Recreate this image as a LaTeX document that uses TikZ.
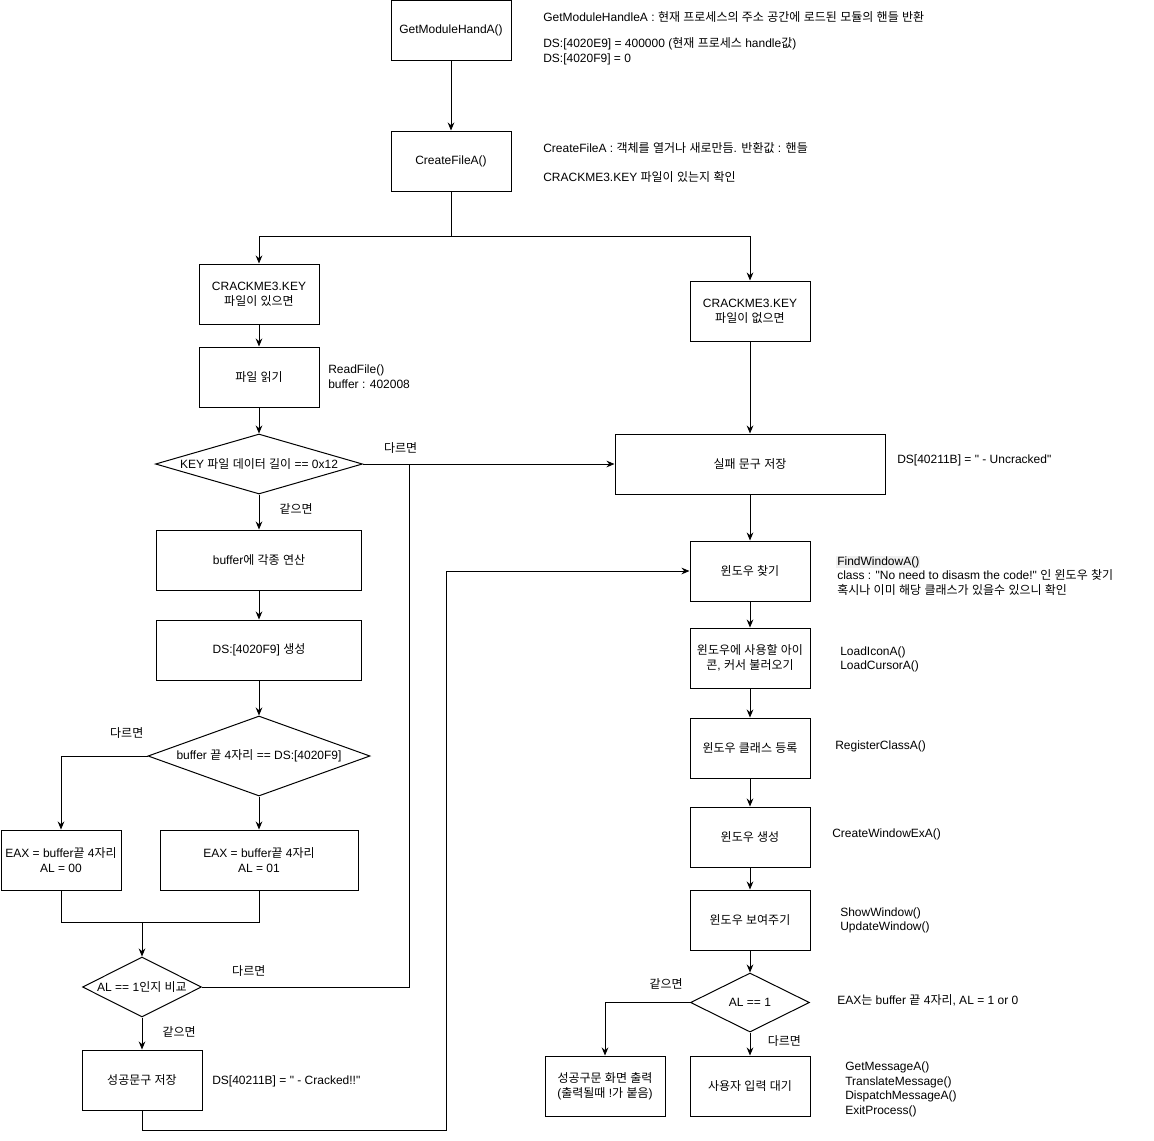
\documentclass[tikz,border=0pt]{standalone}
\usepackage{fontspec}
\newfontfamily\arialfont{Liberation Sans}
\newfontfamily\krfont{Noto Sans CJK KR}
\usetikzlibrary{arrows.meta,shapes.geometric}
% hangul syllables switch to the Korean font
\XeTeXinterchartokenstate=1
\newXeTeXintercharclass\hangulclass
\newcount\hgcnt
\hgcnt="AC00
\loop
  \XeTeXcharclass\hgcnt=\hangulclass
  \advance\hgcnt by 1
\ifnum\hgcnt<"D7A4 \repeat
\XeTeXinterchartoks 0 \hangulclass = {\begingroup\krfont}
\XeTeXinterchartoks 4095 \hangulclass = {\begingroup\krfont}
\XeTeXinterchartoks \hangulclass 0 = {\endgroup}
\XeTeXinterchartoks \hangulclass 4095 = {\endgroup}
\tikzset{
  >={Stealth[length=6pt,width=5pt]},
  font=\arialfont\fontsize{9}{11}\selectfont,
  box/.style  ={draw, line width=0.75pt, minimum width=90pt, minimum height=45pt, align=center, inner sep=2pt},
  dec/.style  ={draw, line width=0.75pt, diamond, inner sep=0pt},
  arr/.style  ={->, line width=0.75pt},
  wire/.style ={line width=0.75pt},
  lbl/.style  ={inner sep=1pt},
  note/.style ={anchor=west, align=left, inner sep=0pt},
}
\newcommand{\dlabel}[1]{\makebox[0pt]{#1}}

\begin{document}
\begin{tikzpicture}[x=0.75pt, y=-0.75pt]
  \useasboundingbox (0,0) rectangle (1154,1140);

  % main column
  \node[box] (getmod) at (451,30) {GetModuleHandA()};
  \node[box] (crfile) at (451,161) {CreateFileA()};
  \node[box] (keyyes) at (259,294) {CRACKME3.KEY\\파일이 있으면};
  \node[box] (keyno) at (750,311) {CRACKME3.KEY\\파일이 없으면};
  \node[box] (rdfile) at (259,377) {파일 읽기};
  \node[dec, minimum width=155.25pt, minimum height=45pt] (lenchk) at (259,464) {\dlabel{KEY 파일 데이터 길이 == 0x12}};
  \node[box, minimum width=202.5pt] (failmsg) at (750,464) {실패 문구 저장};
  \node[box, minimum width=153.75pt] (calc) at (259,560) {buffer에 각종 연산};
  \node[box, minimum width=153.75pt] (gen) at (259,650) {DS:[4020F9] 생성};
  \node[dec, minimum width=166.5pt, minimum height=60pt] (cmp) at (259,756) {\dlabel{buffer 끝 4자리 == DS:[4020F9]}};
  \node[box] (alzero) at (61,860) {EAX = buffer끝 4자리\\AL = 00};
  \node[box, minimum width=148.5pt] (alone) at (259,860) {EAX = buffer끝 4자리\\AL = 01};
  \node[dec, minimum width=89.25pt, minimum height=45pt] (alchk) at (142,987) {\dlabel{AL == 1인지 비교}};
  \node[box] (okmsg) at (142,1080) {성공문구 저장};

  % window column
  \node[box] (findwin) at (750,571) {윈도우 찾기};
  \node[box] (loadres) at (750,658) {윈도우에 사용할 아이\\콘, 커서 불러오기};
  \node[box] (regcls) at (750,748) {윈도우 클래스 등록};
  \node[box] (mkwin) at (750,837) {윈도우 생성};
  \node[box] (showwin) at (750,920) {윈도우 보여주기};
  \node[dec, minimum width=89.25pt, minimum height=44.25pt] (altest) at (750,1002.5) {\dlabel{AL == 1}};
  \node[box] (okshow) at (605,1086) {성공구문 화면 출력\\(출력될때 !가 붙음)};
  \node[box] (waitin) at (750,1086) {사용자 입력 대기};

  \coordinate (split) at (451,236);
  \coordinate (merge) at (142,922);
  \coordinate (bypass) at (409,464);
  \coordinate (loopdn) at (446,1130);

  \draw[arr] (getmod) -- (crfile);
  \draw[wire] (crfile.south) -- (split);
  \draw[arr] (split) -| (keyyes.north);
  \draw[arr] (split) -| (keyno.north);
  \draw[arr] (keyyes) -- (rdfile);
  \draw[arr] (rdfile) -- (lenchk);
  \draw[arr] (lenchk.east) -- node[lbl, pos=0.15, yshift=12pt]{다르면} (failmsg.west);
  \draw[arr] (keyno) -- (failmsg);
  \draw[arr] (lenchk.south) -- node[lbl, pos=0.4, right=14pt]{같으면} (calc.north);
  \draw[arr] (calc) -- (gen);
  \draw[arr] (gen) -- (cmp);
  \draw[arr] (cmp.west) -| node[lbl, pos=0.12, yshift=17pt]{다르면} (alzero.north);
  \draw[arr] (cmp.south) -- (alone.north);
  \draw[wire] (alzero.south) |- (merge);
  \draw[wire] (alone.south) |- (merge);
  \draw[arr] (merge) -- (alchk.north);
  \draw[wire] (alchk.east) -| node[lbl, pos=0.113, yshift=12pt]{다르면} (bypass);
  \draw[arr] (alchk.south) -- node[lbl, pos=0.45, right=14pt]{같으면} (okmsg.north);
  \draw[arr] (okmsg.south) |- (loopdn) |- (findwin.west);

  \draw[arr] (failmsg) -- (findwin);
  \draw[arr] (findwin) -- (loadres);
  \draw[arr] (loadres) -- (regcls);
  \draw[arr] (regcls) -- (mkwin);
  \draw[arr] (mkwin) -- (showwin);
  \draw[arr] (showwin) -- (altest);
  \draw[arr] (altest.west) -| node[lbl, pos=0.14, yshift=14pt]{같으면} (okshow.north);
  \draw[arr] (altest.south) -- node[lbl, pos=0.35, right=12pt]{다르면} (waitin.north);

  % notes
  \node[note] (ngetmod) at (543,17) {GetModuleHandleA : 현재 프로세스의 주소 공간에 로드된 모듈의 핸들 반환};
  \node[note] (nhandle) at (543,51.5) {DS:[4020E9] = 400000 (현재 프로세스 handle값)\\DS:[4020F9] = 0};
  \node[note] (ncrfile) at (543,148) {CreateFileA : 객체를 열거나 새로만듬. 반환값 : 핸들};
  \node[note] (nkeychk) at (543,177) {CRACKME3.KEY 파일이 있는지 확인};
  \node[note] (nrdfile) at (328,376.5) {ReadFile()\\buffer : 402008};
  \node[note] (nfail) at (897,460) {DS[40211B] = " - Uncracked"};
  \node[note] (nfind) at (837,575.5) {{\fboxsep=0.6pt\hspace{-0.6pt}\colorbox{gray!12}{FindWindowA()}}\\class : "No need to disasm the code!" 인 윈도우 찾기\\혹시나 이미 해당 클래스가 있을수 있으니 확인};
  \node[note] (nload) at (840,659.5) {LoadIconA()\\LoadCursorA()};
  \node[note] (nreg) at (835,746) {RegisterClassA()};
  \node[note] (nmkwin) at (832,834) {CreateWindowExA()};
  \node[note] (nshow) at (840,920.5) {ShowWindow()\\UpdateWindow()};
  \node[note] (neax) at (837,1000) {EAX는 buffer 끝 4자리, AL = 1 or 0};
  \node[note] (nok) at (212,1081) {DS[40211B] = " - Cracked!!"};
  \node[note] (nmsg) at (845,1089.5) {GetMessageA()\\TranslateMessage()\\DispatchMessageA()\\ExitProcess()};
\end{tikzpicture}
\end{document}
